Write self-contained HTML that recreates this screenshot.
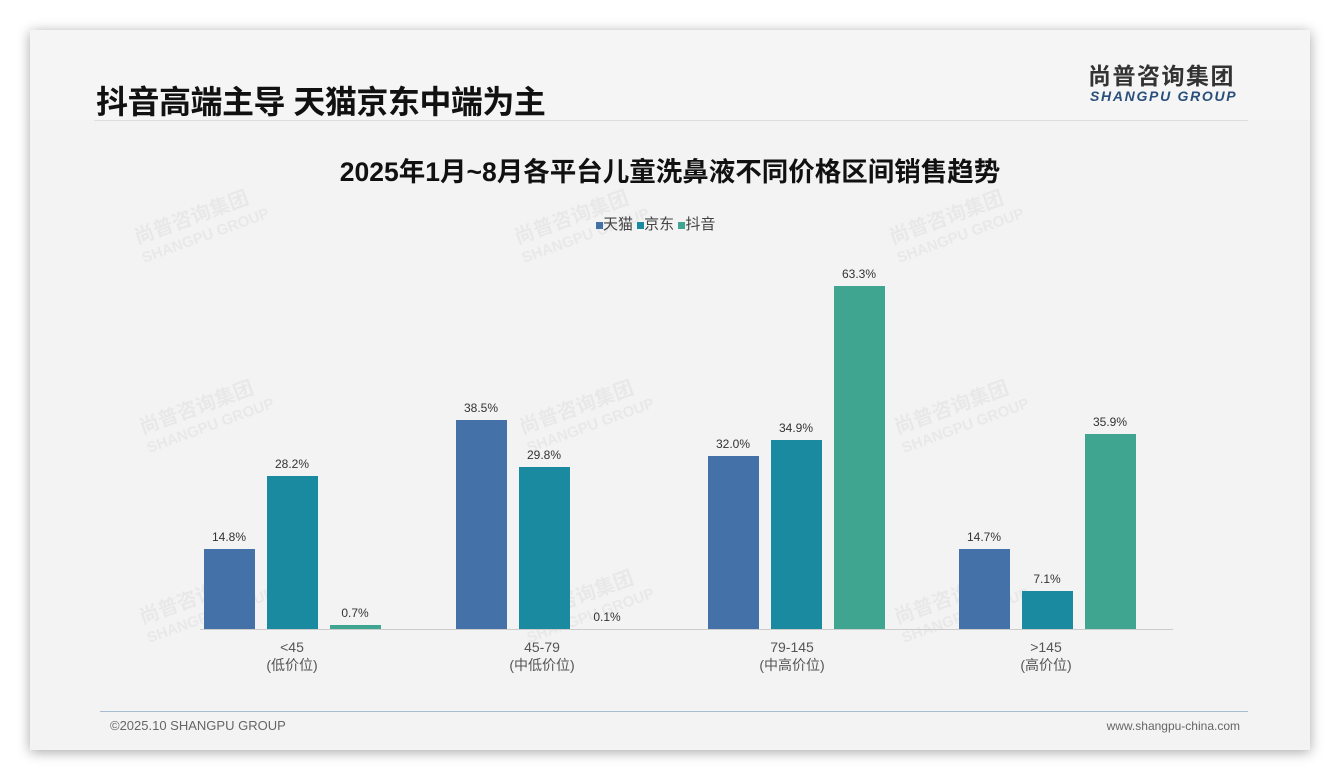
<!DOCTYPE html>
<html><head><meta charset="utf-8"><style>
body{margin:0;width:1340px;height:780px;background:#fff;position:relative;font-family:"Liberation Sans","Noto Sans CJK SC",sans-serif;overflow:hidden}
.card{position:absolute;left:30px;top:30px;width:1280px;height:720px;background:#f3f3f3;box-shadow:0 2px 12px rgba(0,0,0,.35)}
.hdr{position:absolute;left:0;top:0;width:1280px;height:90px;background:#f5f5f5}
.t{position:absolute;font-family:"Liberation Sans","Noto Sans CJK SC",sans-serif}
.bar{position:absolute;width:51px}
.lb{position:absolute;width:80px;text-align:center;font-size:12px;color:#333}
.cat{position:absolute;width:160px;text-align:center;font-size:14px;color:#555;line-height:18px}
.wm{position:absolute;color:rgba(0,0,0,.045);font-weight:bold;transform:rotate(-20deg);font-size:20px;line-height:20px}
</style></head><body>
<div class="card">
<div class="hdr"></div>
<div style="position:absolute;left:64px;top:90px;width:1154px;height:1px;background:#ddd"></div>
<div style="position:absolute;left:70px;top:681px;width:1148px;height:1px;background:#a9bdd2"></div>
</div>
<div class="t" style="left:96px;top:77px;font-size:32px;font-weight:bold;color:#111;letter-spacing:-0.5px">抖音高端主导 天猫京东中端为主</div>
<div class="t" style="left:1088px;top:64px;font-size:23px;line-height:24px;font-weight:bold;color:#333;letter-spacing:1.5px">尚普咨询集团</div>
<div class="t" style="left:1090px;top:88px;font-size:14px;line-height:16px;font-weight:bold;font-style:italic;color:#2a4f7a;letter-spacing:1.7px">SHANGPU GROUP</div>
<div class="t" style="left:0;width:1340px;text-align:center;top:150px;font-size:26.5px;font-weight:bold;color:#111">2025年1月~8月各平台儿童洗鼻液不同价格区间销售趋势</div>
<div class="t" style="left:596px;top:213px;font-size:15px;color:#444"><span style="display:inline-block;width:7px;height:7px;background:#4472a8"></span>天猫 <span style="display:inline-block;width:7px;height:7px;background:#1a8aa0"></span>京东 <span style="display:inline-block;width:7px;height:7px;background:#3fa590"></span>抖音</div>
<div class="wm" style="left:135px;top:205px">尚普咨询集团<br><span style="font-size:15px">SHANGPU GROUP</span></div>
<div class="wm" style="left:515px;top:205px">尚普咨询集团<br><span style="font-size:15px">SHANGPU GROUP</span></div>
<div class="wm" style="left:890px;top:205px">尚普咨询集团<br><span style="font-size:15px">SHANGPU GROUP</span></div>
<div class="wm" style="left:140px;top:395px">尚普咨询集团<br><span style="font-size:15px">SHANGPU GROUP</span></div>
<div class="wm" style="left:520px;top:395px">尚普咨询集团<br><span style="font-size:15px">SHANGPU GROUP</span></div>
<div class="wm" style="left:895px;top:395px">尚普咨询集团<br><span style="font-size:15px">SHANGPU GROUP</span></div>
<div class="wm" style="left:140px;top:585px">尚普咨询集团<br><span style="font-size:15px">SHANGPU GROUP</span></div>
<div class="wm" style="left:520px;top:585px">尚普咨询集团<br><span style="font-size:15px">SHANGPU GROUP</span></div>
<div class="wm" style="left:895px;top:585px">尚普咨询集团<br><span style="font-size:15px">SHANGPU GROUP</span></div>
<div style="position:absolute;left:200px;top:629px;width:973px;height:1px;background:#ccc"></div>

<div class="bar" style="left:204px;top:549px;height:80px;background:#4472a8"></div><div class="lb" style="left:189px;top:530px">14.8%</div>
<div class="bar" style="left:267px;top:476px;height:153px;background:#1a8aa0"></div><div class="lb" style="left:252px;top:457px">28.2%</div>
<div class="bar" style="left:330px;top:625px;height:4px;background:#3fa590"></div><div class="lb" style="left:315px;top:606px">0.7%</div>

<div class="bar" style="left:456px;top:420px;height:209px;background:#4472a8"></div><div class="lb" style="left:441px;top:401px">38.5%</div>
<div class="bar" style="left:519px;top:467px;height:162px;background:#1a8aa0"></div><div class="lb" style="left:504px;top:448px">29.8%</div>
<div class="lb" style="left:567px;top:610px">0.1%</div>

<div class="bar" style="left:708px;top:456px;height:173px;background:#4472a8"></div><div class="lb" style="left:693px;top:437px">32.0%</div>
<div class="bar" style="left:771px;top:440px;height:189px;background:#1a8aa0"></div><div class="lb" style="left:756px;top:421px">34.9%</div>
<div class="bar" style="left:834px;top:286px;height:343px;background:#3fa590"></div><div class="lb" style="left:819px;top:267px">63.3%</div>

<div class="bar" style="left:959px;top:549px;height:80px;background:#4472a8"></div><div class="lb" style="left:944px;top:530px">14.7%</div>
<div class="bar" style="left:1022px;top:591px;height:38px;background:#1a8aa0"></div><div class="lb" style="left:1007px;top:572px">7.1%</div>
<div class="bar" style="left:1085px;top:434px;height:195px;background:#3fa590"></div><div class="lb" style="left:1070px;top:415px">35.9%</div>

<div class="cat" style="left:212px;top:638px">&lt;45<br>(低价位)</div>
<div class="cat" style="left:462px;top:638px">45-79<br>(中低价位)</div>
<div class="cat" style="left:712px;top:638px">79-145<br>(中高价位)</div>
<div class="cat" style="left:966px;top:638px">&gt;145<br>(高价位)</div>

<div class="t" style="left:110px;top:718px;font-size:13px;color:#666">©2025.10 SHANGPU GROUP</div>
<div class="t" style="left:1060px;width:180px;text-align:right;top:719px;font-size:12px;color:#666">www.shangpu-china.com</div>
</body></html>
